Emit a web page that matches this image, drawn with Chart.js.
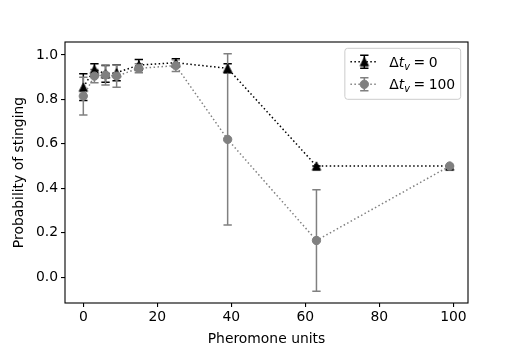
<!DOCTYPE html>
<html><head><meta charset="utf-8">
<script src="https://cdn.jsdelivr.net/npm/chart.js@4/dist/chart.umd.min.js"></script>
<style>html,body{margin:0;padding:0;background:#fff}#wrap{width:520px;height:346px;position:relative}</style>
</head><body><div id="wrap"><canvas id="c" width="520" height="346"></canvas></div>
<script>
// ---- data ----
const pheromone   = [0, 3, 6, 9, 15, 25, 39, 63, 99];
const stingDt0    = [0.855, 0.935, 0.915, 0.92, 0.955, 0.965, 0.94, 0.50, 0.50];
const errDt0      = [0.06, 0.025, 0.038, 0.036, 0.025, 0.018, 0.02, 0.0, 0.0];
const stingDt100  = [0.815, 0.905, 0.91, 0.905, 0.94, 0.952, 0.62, 0.165, 0.50];
const errDt100    = [0.085, 0.03, 0.045, 0.05, 0.02, 0.026, 0.385, 0.228, 0.0];
const xTicks = [0, 20, 40, 60, 80, 100];
const yTicks = [0.0, 0.2, 0.4, 0.6, 0.8, 1.0];
const seriesLabels = ['Δt_v = 0', 'Δt_v = 100'];
const xTitle = 'Pheromone units';
const yTitle = 'Probability of stinging';

// ---- style ----
const FONT = 'DejaVu Sans';
const FS = 13.9;
const BLACK = '#000000', GRAY = '#808080';
const DOT = [1.5, 2.475];

function triangleMarker(color) {
  const c = document.createElement('canvas');
  c.width = 12; c.height = 12;
  const g = c.getContext('2d');
  const cx = 6, cy = 6, h = 4.17;
  g.beginPath(); g.moveTo(cx, cy - h); g.lineTo(cx - h, cy + h); g.lineTo(cx + h, cy + h); g.closePath();
  g.fillStyle = color; g.fill(); g.lineWidth = 1; g.strokeStyle = color; g.lineJoin = 'miter'; g.stroke();
  return c;
}
const triImg = triangleMarker(BLACK);

function drawMarker(ctx, ds, px, py) {
  if (ds.pointStyle === 'circle') {
    ctx.beginPath(); ctx.arc(px, py, ds.pointRadius, 0, Math.PI * 2);
    ctx.fillStyle = ds.pointBackgroundColor; ctx.fill();
    ctx.lineWidth = ds.pointBorderWidth; ctx.strokeStyle = ds.pointBorderColor; ctx.stroke();
  } else {
    ctx.drawImage(ds.pointStyle, px - ds.pointStyle.width / 2, py - ds.pointStyle.height / 2);
  }
}

function drawErrorBar(ctx, px, yTop, yBot, color) {
  const cw = 4.17;
  ctx.save();
  ctx.strokeStyle = color; ctx.lineWidth = 1.5; ctx.lineCap = 'butt';
  ctx.beginPath(); ctx.moveTo(px, yTop); ctx.lineTo(px, yBot); ctx.stroke();
  ctx.beginPath();
  ctx.moveTo(px - cw, yTop); ctx.lineTo(px + cw, yTop);
  ctx.moveTo(px - cw, yBot); ctx.lineTo(px + cw, yBot);
  ctx.stroke();
  ctx.restore();
}

const errorBarPlugin = {
  id: 'errorBars',
  beforeDatasetsDraw(chart) {
    const {ctx, scales: {x, y}} = chart;
    chart.data.datasets.forEach(ds => {
      ds.data.forEach((p, i) => {
        const e = ds.errors[i];
        drawErrorBar(ctx, x.getPixelForValue(p.x), y.getPixelForValue(p.y + e), y.getPixelForValue(p.y - e), ds.errorColor);
      });
    });
  }
};

const framePlugin = {
  id: 'frame',
  afterDatasetsDraw(chart) {
    const {ctx, chartArea: a} = chart;
    ctx.save();
    ctx.strokeStyle = '#000'; ctx.lineWidth = 1.1;
    ctx.strokeRect(a.left, a.top, a.right - a.left, a.bottom - a.top);
    ctx.restore();
  }
};

function parseLabel(s) {
  // "Δt_v = 0" -> Δ (upright), t (italic), v (italic subscript), '=' and value upright
  const m = s.match(/^(Δ)(\w)_(\w)\s*=\s*(.*)$/);
  return [
    {t: m[1], it: false, sub: false, gap: 0},
    {t: m[2], it: true, sub: false, gap: 0},
    {t: m[3], it: true, sub: true, gap: 0},
    {t: '=', it: false, sub: false, gap: 0.25 * FS},
    {t: m[4], it: false, sub: false, gap: 0.25 * FS}
  ];
}
function partFont(p) {
  const size = p.sub ? FS * 0.7 : FS;
  return (p.it ? 'italic ' : '') + size + 'px "' + FONT + '"';
}
function labelWidth(ctx, parts) {
  let w = 0;
  parts.forEach(p => { ctx.font = partFont(p); w += p.gap + ctx.measureText(p.t).width; });
  return w;
}

const legendPlugin = {
  id: 'mplLegend',
  afterDraw(chart) {
    const {ctx, chartArea: a} = chart;
    const dss = chart.data.datasets;
    const pad = 0.4 * FS, handleLen = 2 * FS, textPad = 0.8 * FS, rowH = 22.6;
    const parts = dss.map(ds => parseLabel(ds.label));
    const tw = Math.max(...parts.map(p => labelWidth(ctx, p)));
    const w = pad + handleLen + textPad + tw + pad;
    const h = 51;
    const right = a.right - 7.3, top = a.top + 6.3, left = right - w;
    ctx.save();
    ctx.beginPath();
    if (ctx.roundRect) ctx.roundRect(left, top, w, h, 2.8); else ctx.rect(left, top, w, h);
    ctx.fillStyle = 'rgba(255,255,255,0.8)'; ctx.fill();
    ctx.strokeStyle = '#cccccc'; ctx.lineWidth = 1; ctx.stroke();
    dss.forEach((ds, i) => {
      const cy = top + 13.4 + i * rowH;
      const hx0 = left + pad, hx1 = hx0 + handleLen, hc = (hx0 + hx1) / 2;
      ctx.save();
      ctx.strokeStyle = ds.borderColor; ctx.lineWidth = 1.5; ctx.setLineDash(DOT); ctx.lineCap = 'butt';
      ctx.beginPath(); ctx.moveTo(hx0, cy); ctx.lineTo(hx1, cy); ctx.stroke();
      ctx.restore();
      drawErrorBar(ctx, hc, cy - 6.5, cy + 6.5, ds.errorColor);
      drawMarker(ctx, ds, hc, cy);
      let tx = hx1 + textPad;
      ctx.fillStyle = '#000'; ctx.textBaseline = 'alphabetic'; ctx.textAlign = 'left';
      const base = cy + 5;
      parts[i].forEach(p => {
        ctx.font = partFont(p);
        tx += p.gap;
        ctx.fillText(p.t, tx, p.sub ? base + 2.8 : base);
        tx += ctx.measureText(p.t).width;
      });
    });
    ctx.restore();
  }
};

const tickFont = {family: FONT, size: FS};

new Chart(document.getElementById('c'), {
  type: 'scatter',
  data: {
    datasets: [
      {
        label: seriesLabels[0],
        data: pheromone.map((x, i) => ({x, y: stingDt0[i]})),
        errors: errDt0, errorColor: BLACK,
        showLine: true, borderColor: BLACK, borderWidth: 1.5, borderDash: DOT, borderCapStyle: 'butt',
        pointStyle: triImg, pointRadius: 5, pointBackgroundColor: BLACK, pointBorderColor: BLACK,
        order: 1
      },
      {
        label: seriesLabels[1],
        data: pheromone.map((x, i) => ({x, y: stingDt100[i]})),
        errors: errDt100, errorColor: GRAY,
        showLine: true, borderColor: GRAY, borderWidth: 1.5, borderDash: DOT, borderCapStyle: 'butt',
        pointStyle: 'circle', pointRadius: 4.17, pointBorderWidth: 1, pointBackgroundColor: GRAY, pointBorderColor: GRAY,
        order: 0
      }
    ]
  },
  options: {
    responsive: false, animation: false, events: [],
    layout: {padding: {left: 0, right: 52, top: 42, bottom: 0}},
    plugins: {legend: {display: false}, tooltip: {enabled: false}},
    scales: {
      x: {
        type: 'linear', min: -4.95, max: 103.95,
        afterBuildTicks: s => { s.ticks = xTicks.map(v => ({value: v})); },
        afterFit: s => { s.height = 43; },
        ticks: {font: tickFont, color: '#000', padding: 2, maxRotation: 0, autoSkip: false, callback: v => String(v)},
        grid: {display: true, drawOnChartArea: false, drawTicks: true, tickLength: 4, color: '#000', lineWidth: 1.1},
        border: {display: false},
        title: {display: true, text: xTitle, font: {family: FONT, size: FS, lineHeight: 1}, color: '#000', padding: {top: 0, bottom: 0}}
      },
      y: {
        type: 'linear', min: -0.1164, max: 1.0584,
        afterBuildTicks: s => { s.ticks = yTicks.map(v => ({value: v})); },
        afterFit: s => { s.width = 65; },
        ticks: {font: tickFont, color: '#000', padding: 3, autoSkip: false, callback: v => v.toFixed(1)},
        grid: {display: true, drawOnChartArea: false, drawTicks: true, tickLength: 4, color: '#000', lineWidth: 1.1},
        border: {display: false},
        title: {display: true, text: yTitle, font: tickFont, color: '#000', padding: {top: 11, bottom: 0}}
      }
    }
  },
  plugins: [errorBarPlugin, framePlugin, legendPlugin]
});
</script></body></html>
